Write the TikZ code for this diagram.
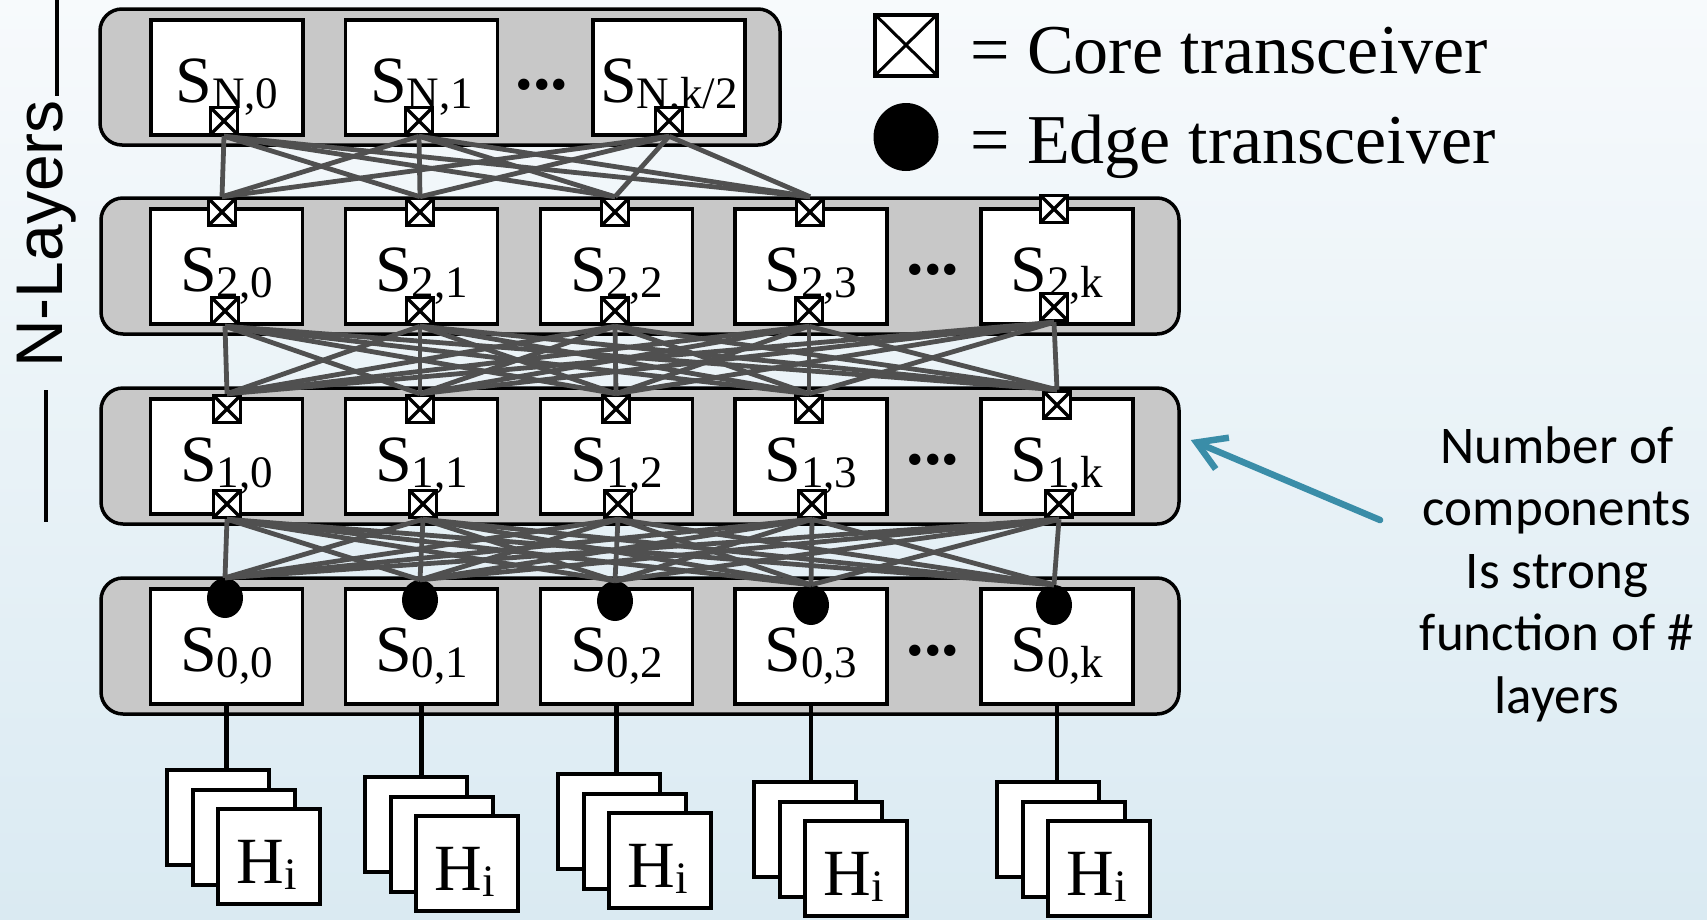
\documentclass[tikz,border=0pt]{standalone}
\usepackage{fontspec}
\setmainfont{Liberation Serif}
\newfontfamily\calibrifont{Carlito}
\newfontfamily\helvfont{Liberation Sans}
\usetikzlibrary{arrows.meta,shapes.geometric,calc}
\definecolor{bgtop}{RGB}{247,250,252}
\definecolor{bgbot}{RGB}{218,234,242}
\definecolor{grpgray}{RGB}{200,200,200}
\definecolor{linkgray}{RGB}{80,80,80}
\definecolor{arrowblue}{RGB}{58,141,168}
\newcommand{\swsub}[1]{\raisebox{-6pt}{\fontsize{45}{45}\selectfont #1}}
\begin{document}
\begin{tikzpicture}[x=1pt,y=-1pt,
 grp/.style={draw=black,line width=3.5pt,fill=grpgray,rounded corners=22pt,inner sep=0pt},
 swbox/.style={draw=black,line width=3.5pt,fill=white,minimum width=152pt,minimum height=115pt,inner sep=0pt},
 swlabel/.style={anchor=base,inner sep=0pt,font=\fontsize{66}{66}\selectfont},
 dotsl/.style={inner sep=0pt,font=\bfseries\fontsize{70}{70}\selectfont},
 xcvr/.style={draw=black,line width=3.5pt,fill=white,minimum size=27pt,inner sep=0pt,
   path picture={\draw[line width=3.5pt] (path picture bounding box.north west)--(path picture bounding box.south east)
     (path picture bounding box.south west)--(path picture bounding box.north east);}},
 edgex/.style={ellipse,fill=black,minimum width=36pt,minimum height=40pt,inner sep=0pt},
 link/.style={draw=linkgray,line width=4.8pt},
 card/.style={draw=black,line width=4pt,fill=white,minimum width=102pt,minimum height=95pt,inner sep=0pt,anchor=north west},
 hostline/.style={draw=black,line width=4.5pt}
]
\useasboundingbox (0,0) rectangle (1707,919);
\shade[top color=bgtop,bottom color=bgbot] (0,0) rectangle (1707,919);

% groups
\node[grp,minimum width=680pt,minimum height=136pt] (gN) at (440,77) {};
\node[grp,minimum width=1078pt,minimum height=136pt] (g2) at (640,266) {};
\node[grp,minimum width=1078pt,minimum height=136pt] (g1) at (640,456) {};
\node[grp,minimum width=1078pt,minimum height=136pt] (g0) at (640,646) {};

% switch boxes
\foreach \x/\n in {227/0,421.5/1,669/2} \node[swbox] (sN\n) at (\x,77.5) {};
\foreach \l/\y in {2/266.5,1/456.5,0/646.5}
  \foreach \x/\n in {226.5/0,421.5/1,616.5/2,811/3,1057/4}
    \node[swbox] (s\l\n) at (\x,\y) {};

% labels
\node[swlabel] (lN0) at (227,102) {S\swsub{N,0}};
\node[swlabel] (lN1) at (421.5,102) {S\swsub{N,1}};
\node[swlabel] (lN2) at (669,102) {S\swsub{N,k/2}};
\foreach \l/\yb in {2/291,1/481,0/671}
  \foreach \x/\n/\t in {226.5/0/0,421.5/1/1,616.5/2/2,811/3/3,1057/4/k}
    \node[swlabel] (l\l\n) at (\x,\yb) {S\swsub{\l,\t}};

% dots
\node[dotsl] (dN) at (542,85) {...};
\node[dotsl] (d2) at (933,270) {...};
\node[dotsl] (d1) at (933,460) {...};
\node[dotsl] (d0) at (933,651) {...};

% transceivers
\foreach \x/\n in {224/0,419/1,669/2} \node[xcvr] (bN\n) at (\x,121) {};
\foreach \x/\y/\n in {222/212/0,420/212/1,615/212/2,810/212/3,1054/209/4} \node[xcvr] (t2\n) at (\x,\y) {};
\foreach \x/\y/\n in {225/311/0,420/311/1,615/311/2,809/311/3,1054/307/4} \node[xcvr] (b2\n) at (\x,\y) {};
\foreach \x/\y/\n in {227/409/0,420/409/1,616/409/2,809/409/3,1057/405/4} \node[xcvr] (t1\n) at (\x,\y) {};
\foreach \x/\y/\n in {227/504/0,423/504/1,618/504/2,812/504/3,1059/504/4} \node[xcvr] (b1\n) at (\x,\y) {};
\foreach \x/\y/\n in {225/598/0,420/600/1,615/601/2,811/605/3,1054/605/4} \node[edgex] (e0\n) at (\x,\y) {};

% links
\foreach \a in {0,1,2}{\foreach \b in {0,1,2,3}{\draw[link] (bN\a.south) -- (t2\b.north);}}
\foreach \a in {0,...,4}{\foreach \b in {0,...,4}{\draw[link] (b2\a.south) -- (t1\b.north);}}
\foreach \a in {0,...,4}{\foreach \b in {0,...,4}{\draw[link] (b1\a.south) -- (e0\b.north);}}

% hosts
\foreach \x/\y/\n in {165/768/0,363/775/1,556/772/2,752/780/3,995/780/4}{
  \node[card] (ha\n) at (\x,\y) {};
  \node[card] (hb\n) at ({\x+25.5},{\y+19.5}) {};
  \node[card] (hc\n) at ({\x+51},{\y+39}) {};
  \node[swlabel] (hl\n) at ({\x+102},{\y+115}) {H\swsub{i}};
  \draw[hostline] (s0\n.south) -- (s0\n.south |- ha\n.north);
}

% legend
\node[draw=black,line width=4pt,fill=white,minimum width=62pt,minimum height=61pt,inner sep=0pt,
  path picture={\draw[line width=3pt] (path picture bounding box.north west)--(path picture bounding box.south east)
     (path picture bounding box.south west)--(path picture bounding box.north east);}] (legcore) at (906,45) {};
\node[ellipse,fill=black,minimum width=65pt,minimum height=68pt,inner sep=0pt] (legedge) at (906,137) {};
\node[anchor=base west,inner sep=0pt,font=\fontsize{70}{70}\selectfont] (legcoret) at (970,73) {= Core transceiver};
\node[anchor=base west,inner sep=0pt,font=\fontsize{70}{70}\selectfont] (legedget) at (970,163) {= Edge transceiver};

% N-Layers
\node[rotate=90,anchor=base,inner sep=0pt,font=\helvfont\fontsize{66}{66}\selectfont] (nlayers) at (62,234) {N-Layers};
\coordinate (dashAtop) at (57,0);
\coordinate (dashAbot) at (57,96);
\coordinate (dashBtop) at (46,390);
\coordinate (dashBbot) at (46,522);
\draw[line width=4.5pt] (dashAtop) -- (dashAbot);
\draw[line width=4.5pt] (dashBtop) -- (dashBbot);

% annotation
\node[align=center,anchor=base,inner sep=0pt,font=\calibrifont\fontsize{53}{62.5}\selectfont] (note) at (1557,713)
  {Number of\\components\\Is strong\\function of \#\\layers};
\coordinate (arrtail) at (1380,520);
\draw[arrowblue,line width=6.5pt,line cap=round,-{Straight Barb[length=28pt,width=34pt]}] (arrtail) -- ([xshift=10pt,yshift=16pt]g1.east);
\end{tikzpicture}
\end{document}
